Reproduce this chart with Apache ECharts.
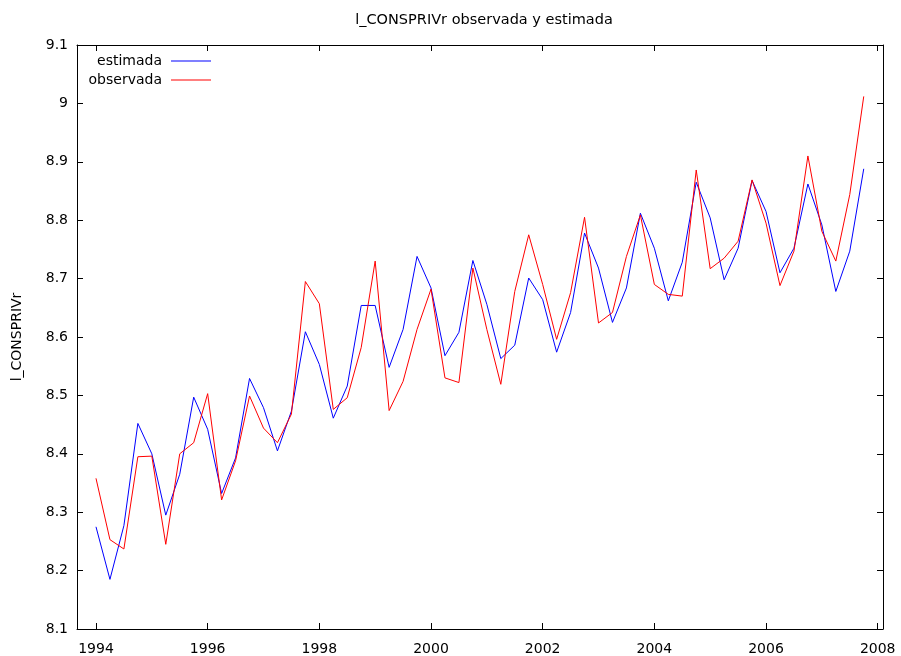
<!DOCTYPE html>
<html>
<head>
<meta charset="utf-8">
<script src="https://cdn.jsdelivr.net/npm/echarts@6/dist/echarts.min.js"></script>
<style>html,body{margin:0;padding:0;background:#fff}#c{width:901px;height:656px}</style>
</head>
<body>
<div id="c"></div>
<script>
// Quarterly data 1994:1 – 2007:4
const startYear = 1994;
const estimada = [
  8.275, 8.185, 8.277, 8.452, 8.400, 8.295, 8.365, 8.497, 8.442, 8.332,
  8.393, 8.529, 8.479, 8.405, 8.473, 8.609, 8.553, 8.461, 8.516, 8.654,
  8.654, 8.548, 8.613, 8.738, 8.684, 8.568, 8.608, 8.731, 8.656, 8.563,
  8.586, 8.701, 8.664, 8.574, 8.642, 8.778, 8.718, 8.625, 8.684, 8.812,
  8.752, 8.662, 8.728, 8.865, 8.804, 8.698, 8.752, 8.868, 8.815, 8.710,
  8.752, 8.862, 8.792, 8.678, 8.747, 8.888
];
const observada = [
  8.358, 8.253, 8.237, 8.395, 8.396, 8.245, 8.400, 8.419, 8.503, 8.321,
  8.388, 8.499, 8.444, 8.419, 8.468, 8.695, 8.657, 8.476, 8.496, 8.582,
  8.730, 8.474, 8.524, 8.613, 8.682, 8.530, 8.522, 8.718, 8.613, 8.519,
  8.678, 8.775, 8.690, 8.596, 8.676, 8.805, 8.624, 8.642, 8.738, 8.809,
  8.690, 8.673, 8.670, 8.886, 8.717, 8.735, 8.764, 8.869, 8.795, 8.688,
  8.747, 8.910, 8.781, 8.730, 8.844, 9.012
];
const xTickLabels = [1994, 1996, 1998, 2000, 2002, 2004, 2006, 2008];

const toPairs = arr => arr.map((v, i) => [startYear + i * 0.25, v]);

const FONT = 'DejaVu Sans';
const FS = 14;
const chart = echarts.init(document.getElementById('c'), null, {renderer: 'canvas'});
const axisLine = {show: true, lineStyle: {color: '#000', width: 1}};
const tick = {show: true, inside: true, length: 6, lineStyle: {color: '#000', width: 1}};

chart.setOption({
  animation: false,
  backgroundColor: '#fff',
  textStyle: {fontFamily: FONT},
  title: {
    text: 'l_CONSPRIVr observada y estimada',
    left: 479, top: 8, textAlign: 'center',
    textStyle: {fontFamily: FONT, fontSize: 14.5, fontWeight: 'normal', color: '#000'}
  },
  legend: [
    {
      data: ['estimada'], orient: 'vertical', align: 'right',
      right: 685, top: 49, itemWidth: 40, itemHeight: 1, icon: 'rect',
      textStyle: {fontFamily: FONT, fontSize: FS, color: '#000', padding: [0, 4, 0, 0]}
    },
    {
      data: ['observada'], orient: 'vertical', align: 'right',
      right: 685, top: 68, itemWidth: 40, itemHeight: 1, icon: 'rect',
      textStyle: {fontFamily: FONT, fontSize: FS, color: '#000', padding: [0, 4, 0, 0]}
    }
  ],
  grid: {left: 77, right: 18, top: 45, bottom: 27, containLabel: false},
  xAxis: [
    {
      type: 'value', min: 1993.66, max: 2008.095, splitLine: {show: false},
      axisLine: axisLine,
      axisTick: Object.assign({}, tick, {customValues: xTickLabels}),
      axisLabel: {customValues: xTickLabels, fontFamily: FONT, fontSize: FS, color: '#000', margin: 13,
                  formatter: v => String(Math.round(v))}
    },
    {
      type: 'value', position: 'top', min: 1993.66, max: 2008.095, splitLine: {show: false},
      axisLine: axisLine,
      axisTick: Object.assign({}, tick, {customValues: xTickLabels}),
      axisLabel: {show: false, customValues: xTickLabels}
    }
  ],
  yAxis: [
    {
      type: 'value', min: 8.1, max: 9.1, interval: 0.1, splitLine: {show: false},
      axisLine: axisLine, axisTick: tick,
      axisLabel: {fontFamily: FONT, fontSize: FS, color: '#000', margin: 9,
                  formatter: v => String(Math.round(v * 10) / 10)},
      name: 'l_CONSPRIVr', nameLocation: 'middle', nameGap: 53, nameRotate: 90,
      nameTextStyle: {fontFamily: FONT, fontSize: FS, color: '#000'}
    },
    {
      type: 'value', position: 'right', min: 8.1, max: 9.1, interval: 0.1, splitLine: {show: false},
      axisLine: axisLine, axisTick: tick, axisLabel: {show: false}
    }
  ],
  series: [
    {
      name: 'estimada', type: 'line', data: toPairs(estimada), showSymbol: false, symbol: 'none',
      color: '#0000ff', lineStyle: {color: '#0000ff', width: 1}, itemStyle: {color: '#0000ff'}
    },
    {
      name: 'observada', type: 'line', data: toPairs(observada), showSymbol: false, symbol: 'none',
      color: '#ff0000', lineStyle: {color: '#ff0000', width: 1}, itemStyle: {color: '#ff0000'}
    }
  ]
});
</script>
</body>
</html>
